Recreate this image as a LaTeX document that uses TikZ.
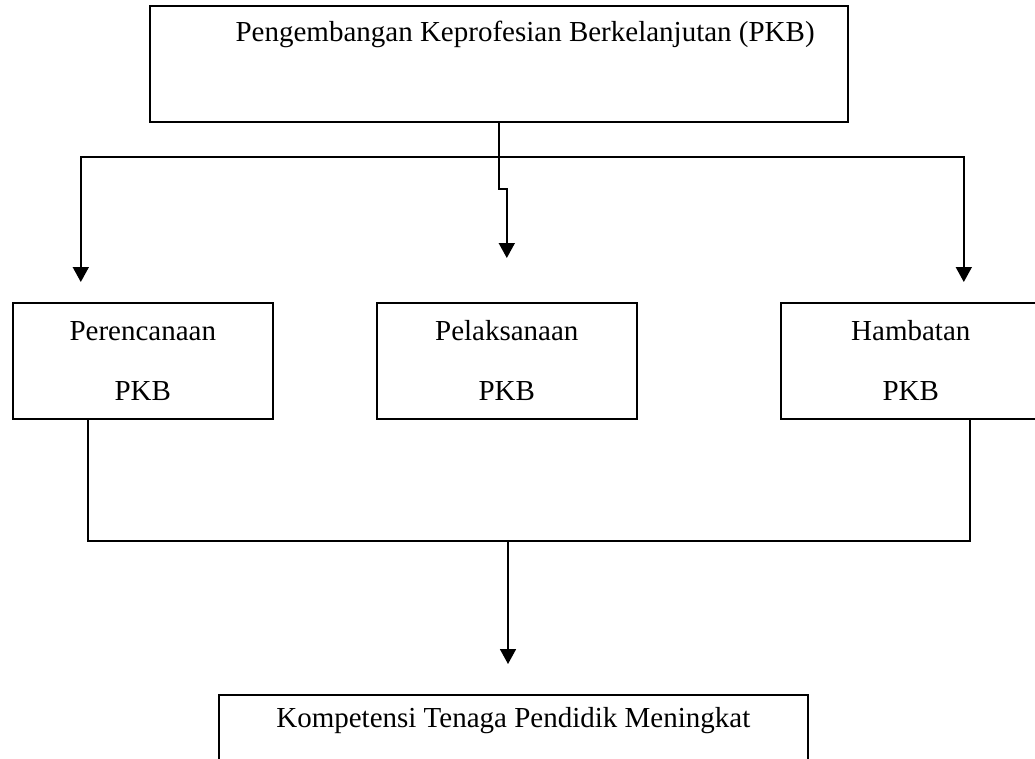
\documentclass[tikz,border=0pt]{standalone}
\usepackage{fontspec}
\setmainfont{Liberation Serif}
\usetikzlibrary{arrows.meta}

\begin{document}
\begin{tikzpicture}[x=1pt, y=-1pt, font=\fontsize{29}{60}\selectfont,
    box/.style={draw, line width=1.6pt, minimum width=260pt, minimum height=116pt, align=center, inner sep=0pt},
    link/.style={line width=1.7pt},
    arr/.style={link, -{Triangle[width=16pt, length=15pt]}}]
  \useasboundingbox (0,0) rectangle (1035,758);
  \clip (0,0) rectangle (1035,758);
  % top box
  \node[box, line width=2.2pt, minimum width=698pt, anchor=north west] (pkb) at (149,5) {};
  \node (pkbtext) at ([xshift=26pt, yshift=-29pt]pkb.north) {Pengembangan Keprofesian Berkelanjutan (PKB)};
  % the three parts
  \node[box, anchor=north west] (plan) at (12,302) {Perencanaan\\PKB};
  \node[box, anchor=north west] (exec) at (376,302) {Pelaksanaan\\PKB};
  \node[box, anchor=north west] (hamb) at (780,302) {Hambatan\\PKB};
  % result
  \node[box, minimum width=589pt, anchor=north west] (kpt) at (218,694) {};
  \node (kpttext) at ([yshift=-27pt]kpt.north) {Kompetensi Tenaga Pendidik Meningkat};

  \coordinate (split) at ([yshift=-34pt]pkb.south);
  \coordinate (jog) at ([yshift=-66pt]pkb.south);
  \coordinate (merge) at (508,541);
  \draw[arr, shorten >=44pt] (pkb.south) -- (jog) -| (exec.north);
  \draw[arr, shorten >=20pt] (split) -| ([xshift=-62pt]plan.north);
  \draw[arr, shorten >=20pt] (split) -| ([xshift=53pt]hamb.north);
  \draw[link] ([xshift=-55pt]plan.south) |- (merge) -| ([xshift=59pt]hamb.south);
  \draw[arr, shorten >=30pt] (merge) -- (merge |- kpt.north);
\end{tikzpicture}
\end{document}
